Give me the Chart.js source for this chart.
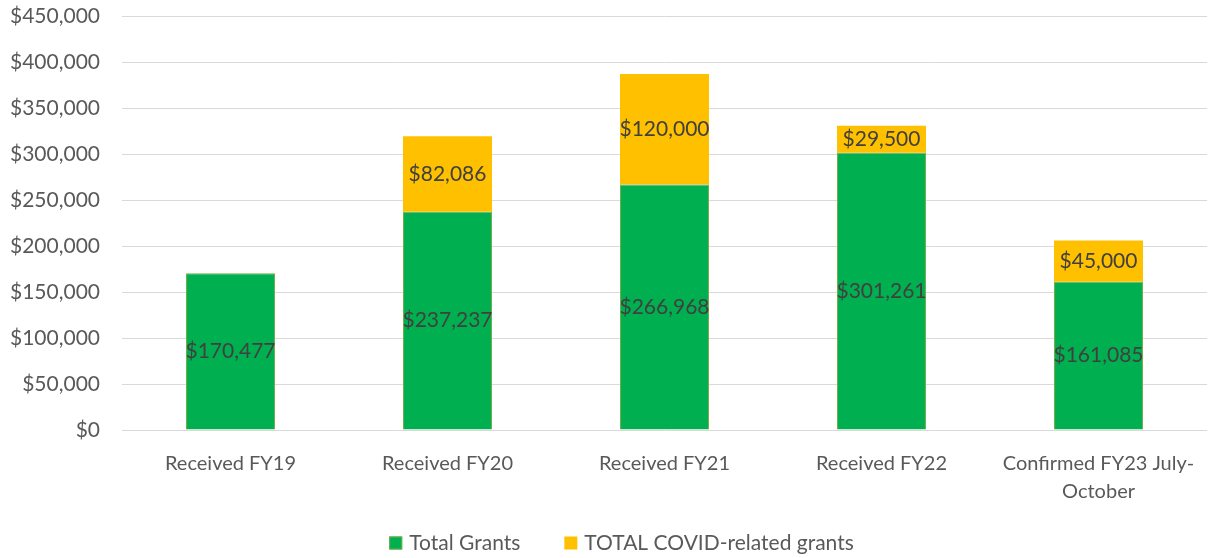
<!DOCTYPE html>
<html>
<head>
<meta charset="utf-8">
<script src="https://cdn.jsdelivr.net/npm/chart.js@4"></script>
<style>
  html, body { margin: 0; padding: 0; background: #fff; }
  #wrap { width: 1217px; height: 558px; }
</style>
</head>
<body>
<div id="wrap"><canvas id="grantChart"></canvas></div>
<script>
// data
var categories = ['Received FY19', 'Received FY20', 'Received FY21', 'Received FY22', ['Confirmed FY23 July-', 'October']];
var totalGrants = [170477, 237237, 266968, 301261, 161085];
var covidGrants = [null, 82086, 120000, 29500, 45000];
var yTicks = [0, 50000, 100000, 150000, 200000, 250000, 300000, 350000, 400000, 450000];

function money(v) {
    return '$' + Number(v).toLocaleString('en-US');
}

// draws the value in the middle of every bar segment
var segmentLabels = {
    id: 'segmentLabels',
    afterDatasetsDraw: function (chart) {
        var ctx = chart.ctx;
        ctx.save();
        ctx.font = '21px Lato';
        ctx.fillStyle = '#404040';
        ctx.textAlign = 'center';
        ctx.textBaseline = 'middle';
        chart.data.datasets.forEach(function (ds, i) {
            var meta = chart.getDatasetMeta(i);
            meta.data.forEach(function (bar, j) {
                var v = ds.data[j];
                if (v == null) return;
                ctx.fillText(money(v), bar.x, (bar.y + bar.base) / 2);
            });
        });
        ctx.restore();
    }
};

// legend row at the bottom, excel style (wide gap between items)
var bottomLegend = {
    id: 'bottomLegend',
    afterDraw: function (chart) {
        var ctx = chart.ctx;
        var box = 13, gapText = 7, gapItem = 44;
        ctx.save();
        ctx.font = '21px Lato';
        ctx.textBaseline = 'middle';
        var items = chart.data.datasets.map(function (ds) {
            return { text: ds.label, fill: ds.backgroundColor, stroke: ds.borderWidth ? ds.borderColor : null, w: ctx.measureText(ds.label).width };
        });
        var total = 0;
        items.forEach(function (it, k) { total += box + gapText + it.w + (k ? gapItem : 0); });
        var x = chart.width / 2 + 13 - total / 2;
        var y = chart.height - 15;
        items.forEach(function (it) {
            ctx.fillStyle = it.fill;
            ctx.fillRect(x, y - box / 2, box, box);
            if (it.stroke) {
                ctx.strokeStyle = it.stroke;
                ctx.lineWidth = 1;
                ctx.strokeRect(x + 0.5, y - box / 2 + 0.5, box - 1, box - 1);
            }
            ctx.fillStyle = '#595959';
            ctx.fillText(it.text, x + box + gapText, y);
            x += box + gapText + it.w + gapItem;
        });
        ctx.restore();
    }
};

Chart.defaults.font.family = 'Lato';
Chart.defaults.color = '#595959';

new Chart(document.getElementById('grantChart'), {
    type: 'bar',
    data: {
        labels: categories,
        datasets: [
            {
                label: 'Total Grants',
                data: totalGrants,
                backgroundColor: '#00B050',
                borderColor: '#70AD47',
                borderWidth: 1,
                categoryPercentage: 1,
                barPercentage: 0.41
            },
            {
                label: 'TOTAL COVID-related grants',
                data: covidGrants,
                backgroundColor: '#FFC000',
                borderWidth: 0,
                categoryPercentage: 1,
                barPercentage: 0.41
            }
        ]
    },
    options: {
        responsive: true,
        maintainAspectRatio: false,
        animation: false,
        layout: { padding: { top: 16, right: 10, left: 0, bottom: 54 } },
        plugins: {
            legend: { display: false },
            tooltip: { enabled: false }
        },
        scales: {
            x: {
                stacked: true,
                grid: { display: false },
                border: { display: false },
                afterFit: function (axis) { axis.height = 74; },
                ticks: { font: { size: 20, lineHeight: 1.4 }, padding: 12, maxRotation: 0 }
            },
            y: {
                stacked: true,
                min: 0,
                max: 450000,
                afterBuildTicks: function (axis) {
                    axis.ticks = yTicks.map(function (v) { return { value: v }; });
                },
                afterFit: function (axis) {
                    axis.width = 122;
                    axis.paddingTop = 0;
                    axis.paddingBottom = 0;
                },
                grid: { color: '#D9D9D9', lineWidth: 1, drawTicks: false },
                border: { display: false },
                ticks: {
                    font: { size: 21 },
                    padding: 22,
                    callback: function (v) { return money(v); }
                }
            }
        }
    },
    plugins: [segmentLabels, bottomLegend]
});
</script>
</body>
</html>
